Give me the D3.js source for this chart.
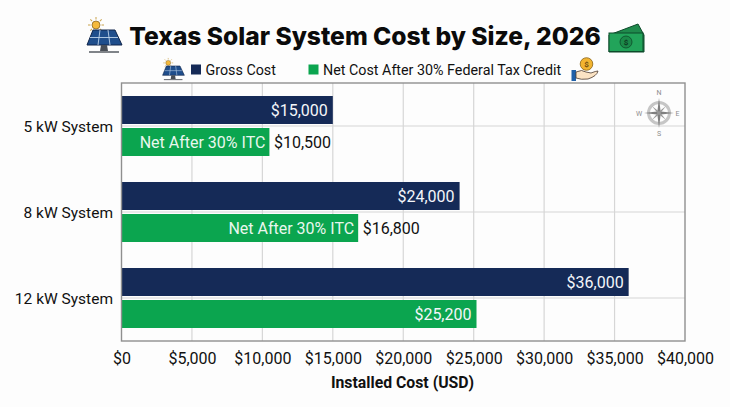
<!DOCTYPE html>
<html>
<head>
<meta charset="utf-8">
<script src="https://cdn.jsdelivr.net/npm/d3@7/dist/d3.min.js"></script>
<style>
html,body{margin:0;padding:0;background:#fdfdfd;}
svg{display:block;font-family:Roboto,sans-serif;}
</style>
</head>
<body>
<svg id="chart" width="730" height="407"></svg>
<script>
const categories = ["5 kW System", "8 kW System", "12 kW System"];
const grossCost = [15000, 24000, 36000];
const netCost = [10500, 16800, 25200];
const seriesNames = ["Gross Cost", "Net Cost After 30% Federal Tax Credit"];
const netBarNote = "Net After 30% ITC";
const xTicks = [0, 5000, 10000, 15000, 20000, 25000, 30000, 35000, 40000];
const titleText = "Texas Solar System Cost by Size, 2026";
const axisTitle = "Installed Cost (USD)";

const NAVY = "#152a57", GREEN = "#0ba54f";
const money = d3.format("$,");

const svg = d3.select("#chart");
const plot = {left: 121.5, right: 685, top: 83, bottom: 341};

const x = d3.scaleLinear().domain([0, 40000]).range([plot.left, plot.right]);
const y = d3.scaleBand().domain(categories).range([plot.top, plot.bottom]);
const rowHeight = 28, rowGap = 4;
const rowTop = (c, i) => y(c) + y.bandwidth() / 2 + (i === 0 ? -(rowHeight + rowGap / 2) : rowGap / 2);

svg.append("rect").attr("width", 730).attr("height", 407).attr("fill", "#fdfdfd");

// Grid
const grid = svg.append("g").attr("stroke", "#d6d6d6").attr("stroke-width", 1.2);
grid.selectAll("line.v").data(xTicks.slice(1, -1)).join("line").attr("class", "v")
  .attr("x1", d => x(d)).attr("x2", d => x(d)).attr("y1", plot.top).attr("y2", plot.bottom);
grid.selectAll("line.h").data(categories).join("line").attr("class", "h")
  .attr("x1", plot.left).attr("x2", plot.right)
  .attr("y1", d => y(d) + y.bandwidth() / 2).attr("y2", d => y(d) + y.bandwidth() / 2);

// Compass rose in the upper right of the plot
const rose = svg.append("g").attr("transform", "translate(659,113)").attr("opacity", 0.75);
rose.append("circle").attr("r", 10.5).attr("fill", "none").attr("stroke", "#b4b4b4").attr("stroke-width", 3);
[0, 90, 180, 270].forEach(a => rose.append("path").attr("transform", `rotate(${a})`)
  .attr("d", "M0,-15L1.8,0L-1.8,0Z").attr("fill", "#555"));
[45, 135, 225, 315].forEach(a => rose.append("path").attr("transform", `rotate(${a})`)
  .attr("d", "M0,-10L1.2,0L-1.2,0Z").attr("fill", "#777"));
[["N", 0, -18], ["E", 18.5, 2.5], ["S", 0, 23], ["W", -20, 2.5]].forEach(([t, dx, dy]) =>
  rose.append("text").attr("x", dx).attr("y", dy).attr("text-anchor", "middle")
    .attr("font-size", 7).attr("fill", "#666").text(t));

// Bars
const barData = categories.flatMap((c, k) => [
  {c, i: 0, v: grossCost[k], fill: NAVY},
  {c, i: 1, v: netCost[k], fill: GREEN}
]);
svg.append("g").selectAll("rect").data(barData).join("rect")
  .attr("x", x(0)).attr("y", d => rowTop(d.c, d.i))
  .attr("width", d => x(d.v) - x(0)).attr("height", rowHeight).attr("fill", d => d.fill);

// Frame
svg.append("rect").attr("x", plot.left).attr("y", plot.top)
  .attr("width", plot.right - plot.left).attr("height", plot.bottom - plot.top)
  .attr("fill", "none").attr("stroke", "#8f8f8f").attr("stroke-width", 1.4);

// Value labels
const labels = svg.append("g").attr("font-size", 16);
barData.forEach(d => {
  const base = rowTop(d.c, d.i) + rowHeight / 2 + 5.6;
  const narrow = d.i === 1 && d.v < 20000;
  if (narrow) {
    labels.append("text").attr("x", x(d.v) - 4).attr("y", base).attr("text-anchor", "end")
      .attr("fill", "#e9f7ee").text(netBarNote);
    labels.append("text").attr("x", x(d.v) + 4.5).attr("y", base).attr("fill", "#111").text(money(d.v));
  } else {
    labels.append("text").attr("x", x(d.v) - 5).attr("y", base).attr("text-anchor", "end")
      .attr("fill", "#f4f6fa").text(money(d.v));
  }
});

// Category labels
svg.append("g").selectAll("text").data(categories).join("text")
  .attr("x", 113).attr("y", d => y(d) + y.bandwidth() / 2 + 5.5)
  .attr("text-anchor", "end").attr("font-size", 15.5).attr("fill", "#111").text(d => d);

// X axis labels
const xAxis = d3.axisBottom(x).tickValues(xTicks).tickFormat(money).tickSize(0).tickPadding(0);
const gx = svg.append("g").attr("transform", `translate(0,${plot.bottom})`).call(xAxis);
gx.select(".domain").remove();
gx.selectAll("text").attr("y", 12).attr("dy", "0.71em")
  .attr("font-family", "Roboto,sans-serif").attr("font-size", 16).attr("fill", "#111");

svg.append("text").attr("x", 402.5).attr("y", 388).attr("text-anchor", "middle")
  .attr("font-size", 15.8).attr("font-weight", 700).attr("fill", "#111").text(axisTitle);

// Title
svg.append("text").attr("x", 365).attr("y", 45).attr("text-anchor", "middle")
  .attr("font-family", "Inter,sans-serif").attr("font-size", 24.6).attr("font-weight", 800)
  .attr("fill", "#0b0b0b").text(titleText);

// Legend
const legend = svg.append("g").attr("font-size", 14.3).attr("fill", "#111");
const legendKeys = [{x: 191, label: seriesNames[0], fill: NAVY}, {x: 308.5, label: seriesNames[1], fill: GREEN}];
legendKeys.forEach(k => {
  legend.append("rect").attr("x", k.x).attr("y", 64.5).attr("width", 10).attr("height", 10).attr("fill", k.fill);
  legend.append("text").attr("x", k.x + 14.5).attr("y", 75).text(k.label);
});

// Solar panel icon
function solarIcon(tx, ty, s) {
  const g = svg.append("g").attr("transform", `translate(${tx},${ty}) scale(${s})`);
  d3.range(8).forEach(i => g.append("line")
    .attr("transform", `rotate(${i * 45} 6 -5)`)
    .attr("x1", 6).attr("y1", -13).attr("x2", 6).attr("y2", -10.5)
    .attr("stroke", "#c9a24a").attr("stroke-width", 1));
  g.append("circle").attr("cx", 6).attr("cy", -5).attr("r", 4).attr("fill", "#f4b93c").attr("stroke", "#7a5a1c").attr("stroke-width", .7);
  g.append("path").attr("d", "M3,0L25,0L32,15L-3,15Z").attr("fill", "#1f4e8c").attr("stroke", "#10254a").attr("stroke-width", 1);
  g.append("path").attr("d", "M0,7.5L28,7.5M10,0L8,15M18,0L20,15").attr("stroke", "#bcd2ea").attr("stroke-width", .9);
  g.append("path").attr("d", "M11,15L17,15L18,21L10,21Z").attr("fill", "#4a4f57");
  g.append("path").attr("d", "M-1,22L29,22").attr("stroke", "#4a4f57").attr("stroke-width", 1.4);
}
solarIcon(90, 30, 1);
solarIcon(164.5, 66, 0.62);

// Banknote icon: two overlapping bills
const cash = svg.append("g").attr("transform", "translate(609,24)");
cash.append("path").attr("d", "M0,11L29,0L35,11L35,28L0,28Z").attr("fill", "#1f8a4c").attr("stroke", "#0d4a2a").attr("stroke-width", 1);
cash.append("rect").attr("x", 0).attr("y", 9).attr("width", 34).attr("height", 18.5).attr("fill", "#22a45a").attr("stroke", "#0d4a2a").attr("stroke-width", 1);
cash.append("circle").attr("cx", 17).attr("cy", 18).attr("r", 6).attr("fill", "#1b8a49").attr("stroke", "#0d4a2a").attr("stroke-width", .8);
cash.append("text").attr("x", 17).attr("y", 21).attr("text-anchor", "middle").attr("font-size", 8).attr("font-weight", 700).attr("fill", "#0d3a22").text("$");

// Coin-in-hand icon
const coin = svg.append("g").attr("transform", "translate(571,58)");
coin.append("circle").attr("cx", 15.5).attr("cy", 6).attr("r", 6.3).attr("fill", "#f2b430").attr("stroke", "#8a6418").attr("stroke-width", .8);
coin.append("text").attr("x", 15.5).attr("y", 9).attr("text-anchor", "middle").attr("font-size", 8).attr("font-weight", 700).attr("fill", "#6e4d10").text("$");
coin.append("rect").attr("x", 0.5).attr("y", 12).attr("width", 4.5).attr("height", 11).attr("fill", "#2060a8");
coin.append("path").attr("d", "M5,14Q11,11 15,14L20,15Q25,13 27,13Q26,18 17,21Q10,22 5,20Z").attr("fill", "#fbe3c4").attr("stroke", "#4a3a30").attr("stroke-width", .8);
</script>
</body>
</html>
